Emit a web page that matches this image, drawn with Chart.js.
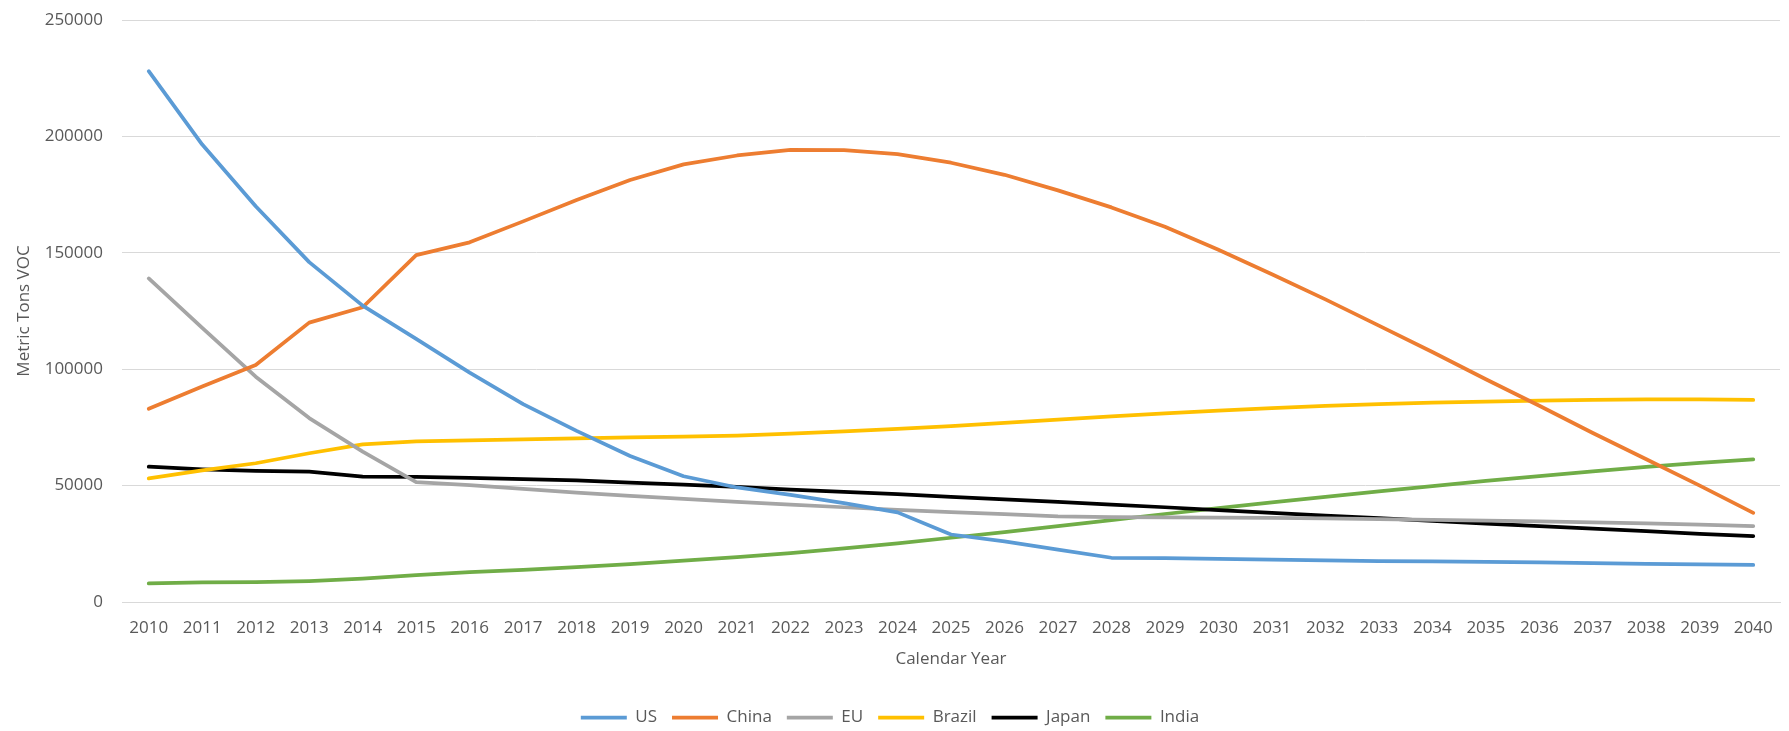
<html>
<head>
	<meta charset="utf-8">
	<title>Metric Tons VOC by Calendar Year</title>
	<script src="https://cdn.jsdelivr.net/npm/chart.js@4.4.1/dist/chart.umd.min.js"></script>
	<style>
		body{margin:0;background:#fff;}
		.contain{width:1789px;height:731px;position:relative;}
	</style>
</head>
<body>
<div class="contain">
	<canvas id="ctx"></canvas>
</div>
<script>
// values
var years = ['2010','2011','2012','2013','2014','2015','2016','2017','2018','2019','2020',
	'2021','2022','2023','2024','2025','2026','2027','2028','2029','2030',
	'2031','2032','2033','2034','2035','2036','2037','2038','2039','2040'];
var us = [228000,196500,170000,146000,127300,113000,98500,85000,73500,62700,54000,
	49200,46000,42500,38500,29000,26000,22500,19000,18800,18500,
	18200,17900,17600,17400,17200,17000,16700,16400,16200,15900];
var china = [83000,92600,101800,120000,126600,149000,154500,163500,172700,181300,188000,
	191800,194200,194100,192400,188700,183500,176800,169500,161200,151300,
	140800,130000,118700,107400,95700,84300,72600,61300,50000,38300];
var eu = [139000,117800,96800,79000,64600,51500,50200,48600,47000,45600,44300,
	43000,41800,40700,39600,38600,37700,36800,36500,36300,36200,
	36100,35900,35600,35300,35000,34600,34200,33800,33200,32600];
var brazil = [53100,56500,59600,63900,67700,69000,69400,69900,70300,70700,71000,
	71500,72300,73300,74400,75600,76900,78300,79700,81000,82200,
	83300,84200,85000,85600,86100,86500,86800,87000,87000,86800];
var japan = [58100,57000,56300,56000,53900,53700,53300,52800,52200,51300,50400,
	49400,48300,47300,46300,45200,44100,43000,41800,40700,39500,
	38300,37100,36000,34800,33700,32600,31500,30400,29300,28300];
var india = [8000,8400,8500,9000,10000,11500,12800,13800,15000,16300,17800,
	19300,21000,23000,25200,27600,30000,32600,35200,37800,40300,
	42800,45200,47500,49800,52000,54100,56100,58000,59800,61300];
var yTicks = [0,50000,100000,150000,200000,250000];

var txt = '#595959';
var font17 = {family:'"Open Sans", sans-serif', size:17};

function line(name, vals, color){
	return {
		label: name,
		data: vals,
		borderColor: color,
		backgroundColor: color,
		borderWidth: 3.75,
		borderCapStyle: 'round',
		borderJoinStyle: 'round',
		pointRadius: 0,
		pointHoverRadius: 0,
		tension: 0,
		fill: false
	};
}

Chart.defaults.font = font17;
Chart.defaults.color = txt;

var myChart = new Chart(document.getElementById('ctx'), {
	type: 'line',
	data: {
		labels: years,
		datasets: [
			line('US', us, '#5B9BD5'),
			line('China', china, '#ED7D31'),
			line('EU', eu, '#A5A5A5'),
			line('Brazil', brazil, '#FFC000'),
			line('Japan', japan, '#000000'),
			line('India', india, '#70AD47')
		]
	},
	options: {
		responsive: true,
		maintainAspectRatio: false,
		animation: false,
		layout: {padding: {left: 0, right: 9, top: 20, bottom: -5}},
		plugins: {
			tooltip: {enabled: false},
			legend: {
				position: 'bottom',
				labels: {
					usePointStyle: true,
					pointStyle: 'line',
					pointStyleWidth: 46,
					padding: 15,
					color: txt,
					font: font17
				}
			}
		},
		scales: {
			x: {
				offset: true,
				grid: {display: false, drawTicks: false},
				border: {display: true, color: '#d9d9d9', width: 1},
				ticks: {padding: 16, maxRotation: 0, autoSkip: false, color: txt, font: font17},
				title: {display: true, text: 'Calendar Year', color: txt, font: font17, padding: {top: 0, bottom: 25}},
				afterFit: function(s){ s.height = 92; }
			},
			y: {
				min: 0,
				max: 250000,
				afterBuildTicks: function(s){ s.ticks = yTicks.map(function(v){ return {value: v}; }); },
				grid: {color: '#d9d9d9', lineWidth: 1, drawTicks: false},
				border: {display: false},
				ticks: {padding: 19, color: txt, font: font17, callback: function(v){ return String(v); }},
				title: {display: true, text: 'Metric Tons VOC', color: txt, font: font17, padding: {top: 14, bottom: 0}},
				afterFit: function(s){ s.width = 122; s.paddingTop = 0; s.paddingBottom = 0; }
			}
		}
	}
});
</script>
</body>
</html>
